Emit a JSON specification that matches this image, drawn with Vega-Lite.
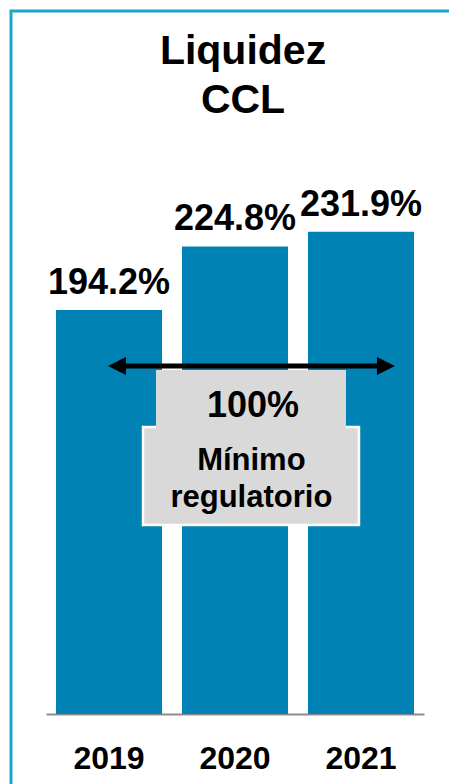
{
  "$schema": "https://vega.github.io/schema/vega-lite/v6.json",
  "width": 443,
  "height": 778,
  "autosize": {"type": "none"},
  "padding": {"left": 11, "top": 11, "right": -5, "bottom": -5},
  "background": "white",
  "config": {
    "view": {"stroke": "#1AA6C8", "strokeWidth": 3},
    "font": "Liberation Sans"
  },
  "title": {
    "text": ["Liquidez", "CCL"],
    "font": "Liberation Sans",
    "fontSize": 41,
    "fontWeight": "bold",
    "color": "black",
    "lineHeight": 49,
    "anchor": "middle",
    "frame": "group",
    "offset": -111,
    "dx": 10.5
  },
  "resolve": {"scale": {"x": "independent"}},
  "layer": [
    {
      "data": {"values": [
        {"year": "2019", "value": 1.942},
        {"year": "2020", "value": 2.248},
        {"year": "2021", "value": 2.319}
      ]},
      "layer": [
        {
          "mark": {"type": "bar", "color": "#0082B4"},
          "encoding": {
            "x": {
              "field": "year", "type": "nominal",
              "scale": {"type": "band", "range": [35, 413], "paddingInner": 0.1587, "paddingOuter": 0.0794},
              "axis": {
                "title": null, "labelAngle": 0, "labelFontSize": 32, "labelFontWeight": "bold",
                "labelColor": "black", "labelFont": "Liberation Sans", "labelBaseline": "alphabetic",
                "labelPadding": 54, "ticks": false, "tickSize": 0, "offset": -75,
                "domainColor": "#8C8C8C", "domainWidth": 2, "grid": false
              }
            },
            "y": {
              "field": "value", "type": "quantitative",
              "scale": {"domain": [0, 3], "range": [703, 79], "nice": false},
              "axis": null
            }
          }
        },
        {
          "mark": {"type": "text", "dy": -16, "baseline": "alphabetic", "align": "center", "fontSize": 36, "fontWeight": "bold", "color": "black", "font": "Liberation Sans"},
          "encoding": {
            "x": {"field": "year", "type": "nominal"},
            "y": {"field": "value", "type": "quantitative"},
            "text": {"field": "value", "type": "quantitative", "format": ".1%"}
          }
        }
      ]
    },
    {
      "data": {"values": [{"level": 1, "note": "Mínimo regulatorio"}]},
      "layer": [
        {
          "mark": {"type": "rect", "color": "#D9D9D9", "stroke": "white", "strokeWidth": 2.5},
          "encoding": {
            "x": {"datum": 0.27, "type": "quantitative", "scale": {"domain": [-0.5, 2.5], "range": [35, 413], "nice": false, "zero": false}, "axis": null},
            "x2": {"datum": 1.984},
            "y": {"datum": 1.38, "type": "quantitative"},
            "y2": {"datum": 0.909}
          }
        },
        {
          "mark": {"type": "rect", "color": "#D9D9D9"},
          "encoding": {
            "x": {"datum": 0.373, "type": "quantitative"},
            "x2": {"datum": 1.881},
            "y": {"datum": 1.654, "type": "quantitative"},
            "y2": {"datum": 1.365}
          }
        },
        {
          "mark": {"type": "rule", "color": "black", "strokeWidth": 5},
          "encoding": {
            "x": {"datum": 0.0635, "type": "quantitative"},
            "x2": {"datum": 2.198},
            "y": {"datum": 1.673, "type": "quantitative"}
          }
        },
        {
          "mark": {"type": "point", "shape": "M -1 0 L 1 -1 L 1 1 Z", "filled": true, "color": "black", "opacity": 1, "size": 324},
          "encoding": {
            "x": {"datum": 0.0635, "type": "quantitative"},
            "y": {"datum": 1.673, "type": "quantitative"}
          }
        },
        {
          "mark": {"type": "point", "shape": "M 1 0 L -1 -1 L -1 1 Z", "filled": true, "color": "black", "opacity": 1, "size": 324},
          "encoding": {
            "x": {"datum": 2.198, "type": "quantitative"},
            "y": {"datum": 1.673, "type": "quantitative"}
          }
        },
        {
          "mark": {"type": "text", "baseline": "alphabetic", "align": "center", "fontSize": 36, "fontWeight": "bold", "color": "black", "font": "Liberation Sans"},
          "encoding": {
            "x": {"datum": 1.143, "type": "quantitative"},
            "y": {"datum": 1.426, "type": "quantitative"},
            "text": {"field": "level", "type": "quantitative", "format": ".0%"}
          }
        },
        {
          "mark": {"type": "text", "baseline": "alphabetic", "align": "center", "fontSize": 31, "fontWeight": "bold", "color": "black", "font": "Liberation Sans", "lineBreak": " ", "lineHeight": 37},
          "encoding": {
            "x": {"datum": 1.13, "type": "quantitative"},
            "y": {"datum": 1.173, "type": "quantitative"},
            "text": {"field": "note", "type": "nominal"}
          }
        }
      ]
    }
  ]
}
